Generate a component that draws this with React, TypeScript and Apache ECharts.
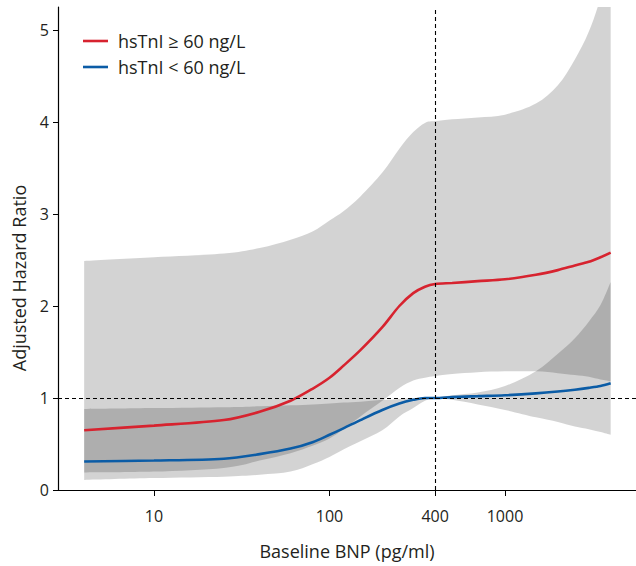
import React, { useEffect, useRef } from "react";
import * as echarts from "echarts";

// Baseline BNP (pg/ml) sample points
const BNP = [4, 10, 25, 40, 60, 80, 100, 120, 150, 200, 250, 300, 350, 400, 500, 700, 1000, 1500, 2000, 2500, 3000, 3500, 4000];

// hsTnI >= 60 ng/L
const RED_HR = [0.65, 0.70, 0.76, 0.85, 0.97, 1.10, 1.22, 1.35, 1.52, 1.77, 2.0, 2.14, 2.21, 2.24, 2.25, 2.27, 2.29, 2.34, 2.39, 2.44, 2.48, 2.53, 2.58];
const RED_LO = [0.19, 0.20, 0.24, 0.32, 0.40, 0.48, 0.56, 0.66, 0.80, 0.97, 1.11, 1.19, 1.22, 1.24, 1.26, 1.28, 1.29, 1.29, 1.27, 1.25, 1.23, 1.20, 1.18];
const RED_HI = [2.49, 2.53, 2.57, 2.63, 2.72, 2.81, 2.93, 3.03, 3.19, 3.45, 3.71, 3.89, 3.99, 4.01, 4.03, 4.05, 4.08, 4.20, 4.40, 4.68, 4.98, 5.35, 5.80];

// hsTnI < 60 ng/L
const BLUE_HR = [0.31, 0.32, 0.34, 0.39, 0.45, 0.52, 0.60, 0.67, 0.76, 0.87, 0.94, 0.98, 1.0, 1.0, 1.01, 1.02, 1.03, 1.05, 1.07, 1.09, 1.11, 1.13, 1.16];
const BLUE_LO = [0.11, 0.13, 0.145, 0.165, 0.20, 0.28, 0.36, 0.44, 0.53, 0.65, 0.80, 0.89, 0.97, 1.0, 0.98, 0.93, 0.87, 0.79, 0.74, 0.69, 0.66, 0.63, 0.60];
const BLUE_HI = [0.88, 0.89, 0.90, 0.91, 0.92, 0.93, 0.94, 0.95, 0.96, 0.98, 0.99, 1.0, 1.0, 1.0, 1.03, 1.06, 1.13, 1.29, 1.48, 1.65, 1.83, 2.01, 2.26];

const X_TICKS = [10, 100, 400, 1000];
const Y_TICKS = [0, 1, 2, 3, 4, 5];
const REF_BNP = 400;
const REF_HR = 1;

const SERIES_RED = "hsTnI \u2265 60 ng/L";
const SERIES_BLUE = "hsTnI < 60 ng/L";
const X_NAME = "Baseline BNP (pg/ml)";
const Y_NAME = "Adjusted Hazard Ratio";

const FONT = "'Open Sans', 'Noto Sans', sans-serif";
const TEXT = "#231f20";
const RED = "#d7232f";
const BLUE = "#0b5ca6";
const BAND = "rgba(0,0,0,0.172)";

type Pt = number[];

function smoothTo(ctx: any, pts: Pt[], moveFirst: boolean) {
  if (!pts.length) return;
  if (moveFirst) ctx.moveTo(pts[0][0], pts[0][1]);
  else ctx.lineTo(pts[0][0], pts[0][1]);
  const k = 1 / 6;
  for (let i = 0; i < pts.length - 1; i++) {
    const p0 = pts[i - 1] || pts[i];
    const p1 = pts[i];
    const p2 = pts[i + 1];
    const p3 = pts[i + 2] || p2;
    const c1x = p1[0] + (p2[0] - p0[0]) * k;
    const c1y = p1[1] + (p2[1] - p0[1]) * k;
    const c2x = p2[0] - (p3[0] - p1[0]) * k;
    const c2y = p2[1] - (p3[1] - p1[1]) * k;
    ctx.bezierCurveTo(c1x, c1y, c2x, c2y, p2[0], p2[1]);
  }
}

let registered = false;
function registerBand() {
  if (registered) return;
  registered = true;
  const Band = (echarts.graphic as any).extendShape({
    shape: { top: [] as Pt[], bottom: [] as Pt[] },
    buildPath(ctx: any, shape: any) {
      const top: Pt[] = shape.top || [];
      const bottom: Pt[] = (shape.bottom || []).slice().reverse();
      if (!top.length) return;
      smoothTo(ctx, top, true);
      smoothTo(ctx, bottom, false);
      ctx.closePath();
    },
  });
  (echarts.graphic as any).registerShape("ciBand", Band);
}

export default function App() {
  const ref = useRef<HTMLDivElement>(null);

  useEffect(() => {
    if (!ref.current) return;
    document.body.style.margin = "0";
    registerBand();
    const chart = echarts.init(ref.current, undefined, { renderer: "svg" });

    const pairs = (ys: number[]) => BNP.map((x, i) => [x, ys[i]]);

    const bandSeries = (name: string, lo: number[], hi: number[]) => ({
      type: "custom" as const,
      name,
      coordinateSystem: "cartesian2d",
      silent: true,
      clip: true,
      z: 1,
      data: [[BNP[0], lo[0]]],
      renderItem: (_params: any, api: any) => {
        const top = BNP.map((x, i) => api.coord([x, hi[i]]));
        const bottom = BNP.map((x, i) => api.coord([x, lo[i]]));
        return {
          type: "ciBand",
          shape: { top, bottom },
          style: { fill: BAND, stroke: "none" },
        };
      },
    });

    chart.setOption({
      animation: false,
      textStyle: { fontFamily: FONT, color: TEXT },
      grid: { left: 58, right: 0, top: 7, bottom: 76, containLabel: false },
      legend: {
        data: [SERIES_RED, SERIES_BLUE],
        orient: "vertical",
        left: 78,
        top: 27,
        itemWidth: 25,
        itemHeight: 14,
        itemGap: 8,
        icon: "path://M0,6 L25,6 L25,8.6 L0,8.6 Z",
        textStyle: { fontFamily: FONT, fontSize: 18, lineHeight: 18, color: TEXT, padding: [0, 0, 0, 5] },
        selectedMode: false,
      },
      graphic: [
        {
          type: "text",
          x: 19,
          y: 278,
          rotation: Math.PI / 2,
          silent: true,
          style: {
            text: Y_NAME,
            fontFamily: FONT,
            fontSize: 18,
            fill: TEXT,
            textAlign: "center",
            textVerticalAlign: "middle",
          },
        },
      ],
      xAxis: {
        type: "log",
        logBase: 10,
        min: Math.pow(10, 1 - 96 / 175.5),
        max: Math.pow(10, 1 + 482 / 175.5),
        name: X_NAME,
        nameLocation: "middle",
        nameGap: 52,
        nameTextStyle: { fontFamily: FONT, fontSize: 18, color: TEXT },
        axisLine: { lineStyle: { color: "#000", width: 1.2 } },
        axisTick: { show: true, length: 6, customValues: X_TICKS, lineStyle: { color: "#000" } },
        axisLabel: {
          customValues: X_TICKS,
          fontFamily: FONT,
          fontSize: 16,
          color: TEXT,
          margin: 18,
          formatter: (v: number) => String(Math.round(v)),
        },
        splitLine: { show: false },
        minorTick: { show: false },
      },
      yAxis: {
        type: "value",
        min: 0,
        max: 5.25,
        interval: 1,
        axisLine: { show: true, lineStyle: { color: "#000", width: 1.2 } },
        axisTick: { show: true, length: 5, customValues: Y_TICKS, lineStyle: { color: "#000" } },
        axisLabel: {
          customValues: Y_TICKS,
          fontFamily: FONT,
          fontSize: 16,
          color: TEXT,
          margin: 9,
        },
        splitLine: { show: false },
      },
      series: [
        bandSeries("redBand", RED_LO, RED_HI),
        bandSeries("blueBand", BLUE_LO, BLUE_HI),
        {
          name: SERIES_RED,
          type: "line",
          data: pairs(RED_HR),
          symbol: "none",
          showSymbol: false,
          smooth: 0.3,
          lineStyle: { color: RED, width: 2.6 },
          itemStyle: { color: RED },
          z: 4,
        },
        {
          name: SERIES_BLUE,
          type: "line",
          data: pairs(BLUE_HR),
          symbol: "none",
          showSymbol: false,
          smooth: 0.3,
          lineStyle: { color: BLUE, width: 2.6 },
          itemStyle: { color: BLUE },
          z: 4,
          markLine: {
            silent: true,
            symbol: ["none", "none"],
            label: { show: false },
            lineStyle: { color: "#000", type: [4, 3], width: 1.1 },
            emphasis: { disabled: true },
            data: [{ xAxis: REF_BNP }, { yAxis: REF_HR }],
          },
        },
      ],
    });

    return () => chart.dispose();
  }, []);

  return <div ref={ref} style={{ width: 636, height: 566 }} />;
}
